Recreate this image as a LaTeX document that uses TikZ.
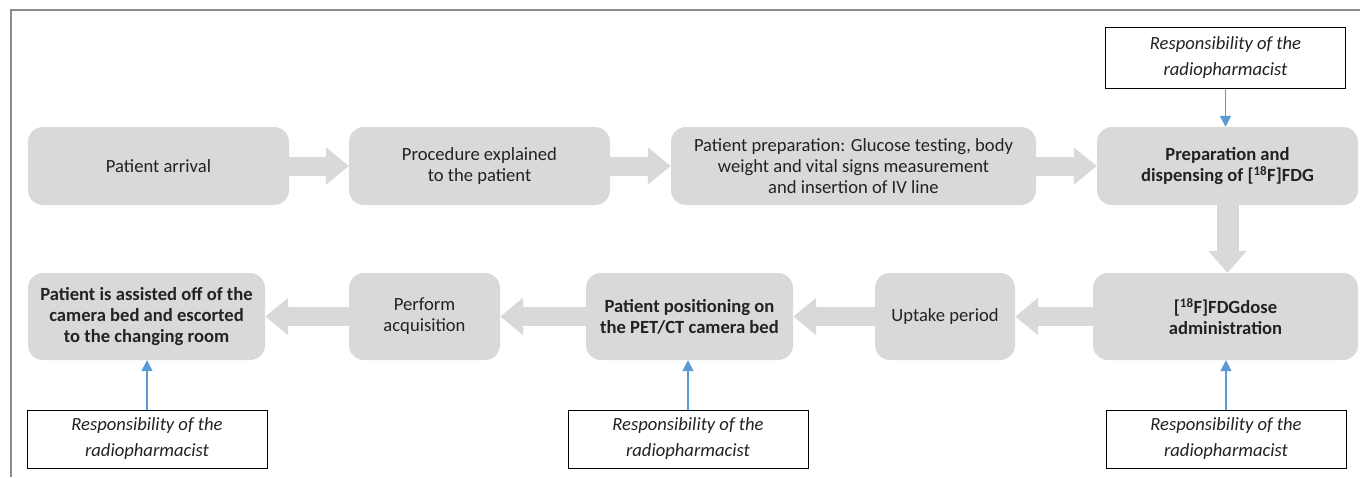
\documentclass[tikz,border=0pt]{standalone}
\usepackage{fontspec}
\setmainfont{Carlito}
\usetikzlibrary{arrows.meta}
\definecolor{boxgray}{HTML}{D9D9D9}
\definecolor{txt}{HTML}{222222}
\definecolor{blueln}{HTML}{5B9BD5}
\definecolor{frame}{HTML}{8C8C8C}
\tikzset{
  stepbox/.style={draw=none,fill=boxgray,rounded corners=15pt,align=center,
    text=txt,font=\fontsize{18.6}{21}\selectfont,inner sep=2pt},
  boldbox/.style={stepbox,font=\fontsize{18.6}{21}\selectfont\bfseries},
  respbox/.style={draw=black,line width=1pt,fill=white,align=center,text=txt,
    font=\fontsize{18.6}{26}\selectfont\itshape,minimum width=240pt,inner sep=2pt},
  blockarrow/.style={draw=boxgray,line width=19pt,
    -{Triangle[width=36pt,length=23pt,fill=boxgray]}},
  bluearrow/.style={draw=blueln,line width=1.5pt,
    -{Triangle[width=11pt,length=11pt,fill=blueln]}}
}
\begin{document}
\begin{tikzpicture}[x=1pt,y=-1pt]
\useasboundingbox (0,0) rectangle (1360,477);
\draw[frame,line width=2pt] (11,477) -- (11,10) -- (1360,10);

% top row
\node[stepbox,minimum width=261pt,minimum height=78pt] (b1) at (158.5,166) {Patient arrival};
\node[stepbox,minimum width=261pt,minimum height=78pt] (b2) at (479.5,166) {Procedure explained\\to the patient};
\node[stepbox,minimum width=365pt,minimum height=78pt] (b3) at (853.5,166) {Patient preparation: Glucose testing, body\\weight and vital signs measurement\\and insertion of IV line};
\node[boldbox,minimum width=261pt,minimum height=78pt] (b4) at (1227.5,166) {Preparation and\\dispensing of [\textsuperscript{18}F]FDG};

% bottom row
\node[boldbox,minimum width=265pt,minimum height=87pt] (b5) at (1225.5,316.5) {[\textsuperscript{18}F]FDGdose\\administration};
\node[stepbox,minimum width=140pt,minimum height=87pt] (b6) at (945,316.5) {Uptake period};
\node[boldbox,minimum width=207pt,minimum height=87pt] (b7) at (689.5,316.5) {Patient positioning on\\the PET/CT camera bed};
\node[stepbox,minimum width=151pt,minimum height=87pt] (b8) at (424.5,316.5) {Perform\\acquisition};
\node[boldbox,minimum width=237pt,minimum height=87pt] (b9) at (146.5,316.5) {Patient is assisted off of the\\camera bed and escorted\\to the changing room};

% block arrows
\draw[blockarrow] (b1.east) -- (b2.west);
\draw[blockarrow] (b2.east) -- (b3.west);
\draw[blockarrow] (b3.east) -- (b4.west);
\draw[blockarrow,line width=22pt,-{Triangle[width=37pt,length=22pt,fill=boxgray]}] (b4.south) -- (b4.south |- b5.north);
\draw[blockarrow] (b5.west) -- (b6.east);
\draw[blockarrow] (b6.west) -- (b7.east);
\draw[blockarrow] (b7.west) -- (b8.east);
\draw[blockarrow] (b8.west) -- (b9.east);

% responsibility boxes
\node[respbox,minimum height=61pt] (r1) at (1225.5,57.5) {Responsibility of the\\radiopharmacist};
\node[respbox,minimum height=58pt] (r2) at (147,439) {Responsibility of the\\radiopharmacist};
\node[respbox,minimum height=58pt] (r3) at (688,439) {Responsibility of the\\radiopharmacist};
\node[respbox,minimum height=58pt] (r4) at (1226,439) {Responsibility of the\\radiopharmacist};

\draw[bluearrow] (r1.south) -- (r1.south |- b4.north);
\draw[bluearrow] (r2.north) -- (r2.north |- b9.south);
\draw[bluearrow] (r3.north) -- (r3.north |- b7.south);
\draw[bluearrow] (r4.north) -- (r4.north |- b5.south);
\end{tikzpicture}
\end{document}
